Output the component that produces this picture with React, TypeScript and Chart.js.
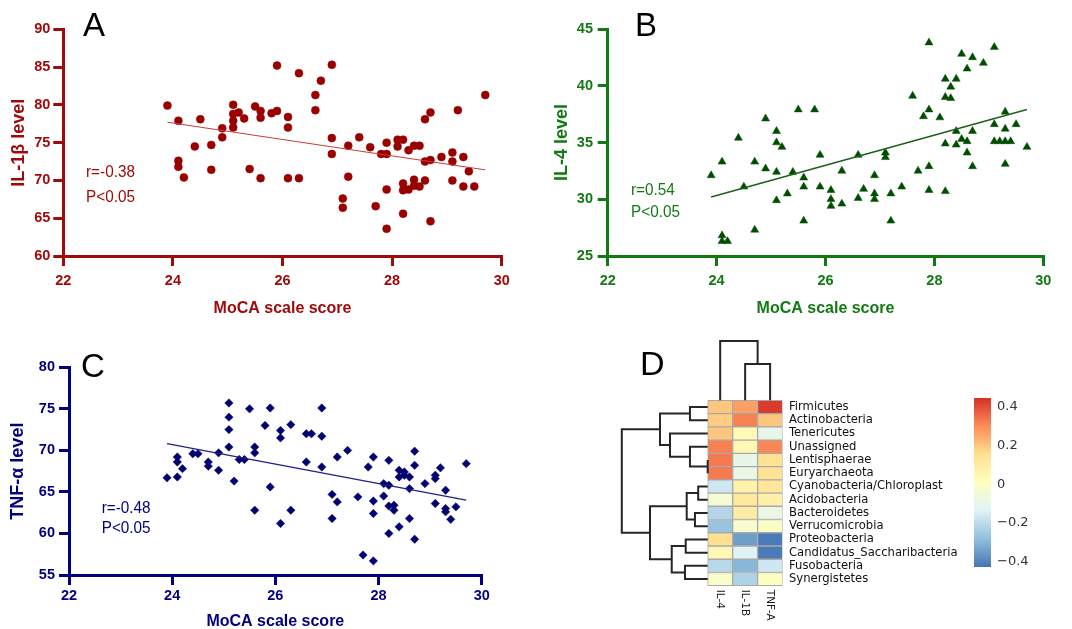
import React, { useEffect, useRef } from 'react';
import { Chart, registerables } from 'chart.js';

Chart.register(...registerables);

const NARROW = "'Liberation Sans Narrow', 'Arial Narrow', 'Liberation Sans', Arial, sans-serif";
const SANS = "'Liberation Sans', Arial, sans-serif";
const HEAT_FONT = "'DejaVu Sans', sans-serif";

// ---------------- Panel A : IL-1β ----------------
const moCaTicks = [22, 24, 26, 28, 30];
const mocaA = [23.9, 24.1, 24.1, 24.1, 24.2, 24.4, 24.5, 24.7, 24.7, 24.9, 24.9, 25.1, 25.1, 25.1, 25.1, 25.2, 25.3, 25.4, 25.5, 25.6, 25.6, 25.6, 25.8, 25.9, 25.9, 26.1, 26.1, 26.1, 26.3, 26.3, 26.6, 26.6, 26.7, 26.9, 26.9, 26.9, 27.1, 27.1, 27.2, 27.2, 27.4, 27.6, 27.7, 27.8, 27.9, 27.9, 27.9, 27.9, 28.1, 28.1, 28.2, 28.2, 28.2, 28.2, 28.3, 28.3, 28.4, 28.4, 28.4, 28.5, 28.5, 28.6, 28.6, 28.6, 28.7, 28.7, 28.7, 28.9, 29.1, 29.1, 29.1, 29.2, 29.3, 29.3, 29.4, 29.5, 29.7];
const il1bLevel = [79.9, 77.9, 72.6, 71.8, 70.4, 74.5, 78.1, 74.7, 71.4, 76.9, 75.7, 80.0, 78.8, 77.9, 77.0, 79.0, 78.2, 71.5, 79.8, 79.2, 78.3, 70.3, 78.9, 79.2, 85.2, 78.4, 77.0, 70.3, 84.2, 70.3, 81.3, 79.3, 83.2, 85.3, 75.6, 73.5, 67.6, 66.4, 74.6, 70.5, 75.7, 74.4, 66.6, 73.5, 75.0, 73.5, 68.8, 63.6, 75.4, 74.5, 75.4, 69.6, 68.7, 65.6, 74.0, 68.8, 74.6, 70.1, 69.3, 74.6, 69.2, 78.1, 72.5, 70.0, 79.0, 72.7, 64.6, 73.1, 73.7, 72.5, 70.0, 79.3, 73.1, 69.2, 71.2, 69.2, 81.3];
const trendAX = [23.9, 29.7];
const trendAY = [77.7, 71.4];
const il1bTicks = [60, 65, 70, 75, 80, 85, 90];

// ---------------- Panel B : IL-4 ----------------
const mocaB = [23.9, 24.1, 24.1, 24.1, 24.2, 24.4, 24.5, 24.7, 24.7, 24.9, 24.9, 25.1, 25.1, 25.1, 25.1, 25.2, 25.3, 25.4, 25.5, 25.6, 25.6, 25.6, 25.8, 25.9, 25.9, 26.1, 26.1, 26.1, 26.3, 26.3, 26.6, 26.6, 26.7, 26.9, 26.9, 26.9, 27.1, 27.1, 27.2, 27.2, 27.4, 27.6, 27.7, 27.8, 27.9, 27.9, 27.9, 27.9, 28.1, 28.2, 28.2, 28.2, 28.2, 28.3, 28.3, 28.4, 28.4, 28.4, 28.5, 28.5, 28.6, 28.6, 28.6, 28.7, 28.7, 28.7, 28.9, 29.1, 29.1, 29.1, 29.2, 29.3, 29.3, 29.3, 29.3, 29.4, 29.5, 29.7];
const il4Level = [32.1, 33.3, 26.8, 26.3, 26.3, 35.4, 31.1, 33.3, 27.3, 37.1, 32.7, 36.0, 35.0, 32.4, 29.9, 34.6, 30.5, 32.4, 37.9, 31.9, 31.1, 28.1, 37.9, 33.9, 31.1, 30.8, 30.0, 29.4, 32.5, 29.6, 33.9, 30.1, 30.9, 32.1, 30.5, 30.0, 34.1, 33.7, 30.5, 28.1, 31.1, 39.1, 32.5, 37.3, 43.8, 37.9, 32.9, 30.8, 37.2, 40.6, 39.0, 34.9, 30.7, 39.9, 38.9, 40.6, 36.0, 34.8, 42.8, 35.3, 41.5, 35.1, 34.1, 42.5, 36.0, 32.9, 42.0, 43.4, 36.6, 35.1, 35.1, 37.7, 36.2, 35.1, 33.1, 35.1, 36.6, 34.6];
const trendBX = [23.9, 29.7];
const trendBY = [30.2, 37.9];
const il4Ticks = [25, 30, 35, 40, 45];

// ---------------- Panel C : TNF-α ----------------
const mocaC = [23.9, 24.1, 24.1, 24.1, 24.2, 24.4, 24.5, 24.7, 24.7, 24.9, 24.9, 25.1, 25.1, 25.1, 25.1, 25.2, 25.3, 25.4, 25.5, 25.6, 25.6, 25.6, 25.8, 25.9, 25.9, 26.1, 26.1, 26.1, 26.3, 26.3, 26.6, 26.7, 26.6, 26.9, 26.9, 26.9, 27.1, 27.1, 27.2, 27.2, 27.4, 27.6, 27.7, 27.8, 27.9, 27.9, 27.9, 27.9, 28.1, 28.1, 28.2, 28.2, 28.2, 28.2, 28.3, 28.3, 28.4, 28.4, 28.5, 28.5, 28.4, 28.6, 28.6, 28.6, 28.7, 28.7, 28.7, 28.9, 29.1, 29.1, 29.1, 29.2, 29.3, 29.3, 29.3, 29.4, 29.5, 29.7];
const tnfLevel = [66.7, 69.2, 68.6, 66.8, 67.8, 69.6, 69.6, 68.6, 68.1, 69.7, 67.6, 75.7, 74.0, 72.5, 70.4, 66.3, 68.9, 68.9, 75.0, 70.4, 69.7, 62.8, 73.0, 75.1, 65.6, 72.4, 71.5, 61.2, 73.1, 62.8, 72.0, 72.0, 68.6, 75.1, 71.7, 68.0, 64.7, 61.8, 69.2, 63.8, 70.0, 64.4, 57.4, 68.0, 69.2, 63.9, 62.4, 56.7, 66.0, 64.5, 68.8, 65.8, 63.3, 60.0, 63.4, 62.8, 67.6, 66.8, 67.4, 67.0, 60.8, 61.8, 65.4, 66.8, 68.2, 69.9, 59.3, 66.0, 67.0, 66.6, 63.6, 67.9, 65.2, 63.0, 62.6, 61.7, 63.2, 68.4];
const trendCX = [23.9, 29.7];
const trendCY = [70.8, 64.0];
const tnfTicks = [55, 60, 65, 70, 75, 80];

// ---------------- Panel D : correlation heatmap ----------------
const rowNames = ['Firmicutes', 'Actinobacteria', 'Tenericutes', 'Unassigned', 'Lentisphaerae', 'Euryarchaeota', 'Cyanobacteria/Chloroplast', 'Acidobacteria', 'Bacteroidetes', 'Verrucomicrobia', 'Proteobacteria', 'Candidatus_Saccharibacteria', 'Fusobacteria', 'Synergistetes'];
const colNames = ['IL-4', 'IL-1B', 'TNF-A'];
const il4Corr = [0.2, 0.19, 0.2, 0.32, 0.33, 0.33, -0.17, -0.04, -0.22, -0.27, 0.15, 0.04, -0.21, -0.02];
const il1bCorr = [0.27, 0.32, 0.03, 0.04, -0.1, -0.09, 0.07, 0.11, 0.1, -0.03, -0.35, -0.14, -0.3, -0.23];
const tnfCorr = [0.43, 0.2, -0.1, 0.31, 0.14, 0.14, 0.12, 0.08, -0.09, -0.01, -0.42, -0.42, -0.17, 0.0];
// row dendrogram merges (leaves 0..13, merge k creates node 14+k), heights in column widths
const rowMergeA = [4, 3, 0, 2, 16, 6, 8, 19, 10, 12, 22, 21, 18];
const rowMergeB = [5, 14, 1, 15, 17, 7, 9, 20, 11, 13, 23, 24, 25];
const rowMergeH = [0, 0.71, 0.71, 1.51, 1.91, 0.38, 0.51, 0.84, 0.88, 0.91, 1.44, 2.31, 3.44];
// column dendrogram merges (leaves 0..2, merge k creates node 3+k), heights in row heights
const colMergeA = [1, 0];
const colMergeB = [2, 3];
const colMergeH = [2.75, 4.49];
const colorbarTicks = [0.4, 0.2, 0, -0.2, -0.4];
const corrMin = -0.43;
const corrMax = 0.447;
const palette = ['#4575b4', '#91bfdb', '#e0f3f8', '#ffffbf', '#fee090', '#fc8d59', '#d73027'];

function hexToRgb(h: string) {
  const n = parseInt(h.slice(1), 16);
  return [(n >> 16) & 255, (n >> 8) & 255, n & 255];
}
function corrColor(v: number) {
  const t = Math.min(1, Math.max(0, (v - corrMin) / (corrMax - corrMin)));
  const s = t * (palette.length - 1);
  const i = Math.min(palette.length - 2, Math.floor(s));
  const f = s - i;
  const a = hexToRgb(palette[i]);
  const b = hexToRgb(palette[i + 1]);
  const c = a.map((x, k) => Math.round(x + (b[k] - x) * f));
  return `rgb(${c[0]},${c[1]},${c[2]})`;
}

const textPlugin = {
  id: 'panelText',
  afterDraw(chart: any, _args: any, opts: any) {
    const ctx = chart.ctx;
    (opts.items || []).forEach((it: any) => {
      ctx.save();
      ctx.font = it.font;
      ctx.fillStyle = it.color;
      ctx.textBaseline = 'alphabetic';
      ctx.textAlign = 'left';
      ctx.translate(it.x, it.y);
      if (it.sx) ctx.scale(it.sx, 1);
      ctx.fillText(it.text, 0, 0);
      ctx.restore();
    });
  },
};

const colLabelPlugin = {
  id: 'colLabels',
  afterDraw(chart: any) {
    const { ctx, scales } = chart;
    ctx.save();
    ctx.font = `10.5px ${HEAT_FONT}`;
    ctx.fillStyle = '#1a1a1a';
    ctx.textAlign = 'left';
    ctx.textBaseline = 'middle';
    colNames.forEach((name, j) => {
      ctx.save();
      ctx.translate(scales.x.getPixelForValue(j + 0.5), scales.y.getPixelForValue(0) + 4);
      ctx.rotate(Math.PI / 2);
      ctx.fillText(name, 0, 0);
      ctx.restore();
    });
    ctx.restore();
  },
};

function fixWidth(w: number) {
  return (s: any) => {
    s.width = w;
    s.paddingTop = 0;
    s.paddingBottom = 0;
  };
}

function scatterConfig(p: any) {
  return {
    type: 'scatter',
    data: {
      datasets: [
        {
          data: p.tx.map((x: number, i: number) => ({ x, y: p.ty[i] })),
          showLine: true,
          borderColor: p.lineColor,
          borderWidth: p.lineWidth,
          pointRadius: 0,
        },
        {
          data: p.xs.map((x: number, i: number) => ({ x, y: p.ys[i] })),
          pointStyle: p.pointStyle,
          pointRadius: p.radius,
          backgroundColor: p.pointColor,
          borderColor: p.pointColor,
          borderWidth: 0.5,
        },
      ],
    },
    plugins: [textPlugin],
    options: {
      animation: false,
      responsive: false,
      events: [],
      layout: { padding: { left: 0, top: p.padTop, right: p.padRight, bottom: 0 } },
      plugins: { legend: { display: false }, tooltip: { enabled: false }, panelText: { items: p.texts } },
      scales: {
        x: {
          type: 'linear', min: 22, max: 30,
          afterBuildTicks: (s: any) => { s.ticks = moCaTicks.map((v) => ({ value: v })); },
          afterFit: (s: any) => { s.height = p.xHeight; },
          ticks: { color: p.color, padding: p.xTickPad, font: { family: NARROW, size: 14.5, weight: 'bold' } },
          grid: { drawOnChartArea: false, drawTicks: true, tickLength: 10, lineWidth: 3, color: p.color },
          border: { display: true, width: 3, color: p.color },
          title: { display: true, text: 'MoCA scale score', color: p.color, font: { family: NARROW, size: 16, weight: 'bold' }, padding: { top: 0, bottom: p.xTitlePad } },
        },
        y: {
          type: 'linear', min: p.yTicks[0], max: p.yTicks[p.yTicks.length - 1],
          afterBuildTicks: (s: any) => { s.ticks = p.yTicks.map((v: number) => ({ value: v })); },
          afterFit: fixWidth(p.yWidth),
          ticks: { color: p.color, padding: p.yTickPad, font: { family: NARROW, size: 14.5, weight: 'bold' } },
          grid: { drawOnChartArea: false, drawTicks: true, tickLength: 10, lineWidth: 3, color: p.color },
          border: { display: true, width: 3, color: p.color },
          title: { display: true, text: p.yTitle, color: p.color, font: { family: NARROW, size: 18, weight: 'bold' }, padding: { top: p.yTitlePad, bottom: 0 } },
        },
      },
    },
  };
}

function makeA() {
  const red = '#a00a0a';
  return scatterConfig({
    xs: mocaA, ys: il1bLevel, tx: trendAX, ty: trendAY, yTicks: il1bTicks, yTitle: 'IL-1β level',
    color: red, pointColor: '#990000', lineColor: '#cc3a3a', lineWidth: 1, pointStyle: 'circle', radius: 4,
    padTop: 29.3, padRight: 28.3, yWidth: 63.3, xHeight: 64, xTickPad: 6, yTickPad: 3, xTitlePad: 1.5, yTitlePad: 8.2,
    texts: [
      { text: 'A', x: 83, y: 36, font: `33px ${SANS}`, color: '#000' },
      { text: 'r=-0.38', x: 86, y: 176.7, font: `17px ${SANS}`, color: red, sx: 0.9 },
      { text: 'P<0.05', x: 86, y: 201.5, font: `17px ${SANS}`, color: red, sx: 0.9 },
    ],
  });
}
function makeB() {
  const green = '#137a13';
  return scatterConfig({
    xs: mocaB, ys: il4Level, tx: trendBX, ty: trendBY, yTicks: il4Ticks, yTitle: 'IL-4 level',
    color: green, pointColor: '#004d00', lineColor: '#1c601c', lineWidth: 1.5, pointStyle: 'triangle', radius: 4.6,
    padTop: 29, padRight: 28.7, yWidth: 77.7, xHeight: 64, xTickPad: 6, yTickPad: 4.7, xTitlePad: 2.2, yTitlePad: 20.9,
    texts: [
      { text: 'B', x: 105, y: 36, font: `33px ${SANS}`, color: '#000' },
      { text: 'r=0.54', x: 101, y: 195, font: `17px ${SANS}`, color: green, sx: 0.9 },
      { text: 'P<0.05', x: 101, y: 217.3, font: `17px ${SANS}`, color: green, sx: 0.9 },
    ],
  });
}
function makeC() {
  const navy = '#000080';
  return scatterConfig({
    xs: mocaC, ys: tnfLevel, tx: trendCX, ty: trendCY, yTicks: tnfTicks, yTitle: 'TNF-α level',
    color: navy, pointColor: '#000070', lineColor: '#20208a', lineWidth: 1.3, pointStyle: 'rectRot', radius: 4.2,
    padTop: 37.3, padRight: 48.3, yWidth: 69, xHeight: 60, xTickPad: 2.7, yTickPad: 4, xTitlePad: 3.5, yTitlePad: 7.2,
    texts: [
      { text: 'C', x: 81, y: 46.7, font: `33px ${SANS}`, color: '#000' },
      { text: 'r=-0.48', x: 101.7, y: 182.7, font: `17px ${SANS}`, color: navy, sx: 0.9 },
      { text: 'P<0.05', x: 101.7, y: 203.3, font: `17px ${SANS}`, color: navy, sx: 0.9 },
    ],
  });
}

function dendroDatasets() {
  const n = rowNames.length;
  const segs: any[] = [];
  const ypos = rowNames.map((_, i) => n - 0.5 - i);
  const rh = rowNames.map(() => 0);
  rowMergeA.forEach((a, k) => {
    const b = rowMergeB[k];
    const h = rowMergeH[k];
    segs.push([
      { x: -rh[a], y: ypos[a] }, { x: -h, y: ypos[a] }, { x: -h, y: ypos[b] }, { x: -rh[b], y: ypos[b] },
    ]);
    ypos.push((ypos[a] + ypos[b]) / 2);
    rh.push(h);
  });
  const xpos = colNames.map((_, j) => j + 0.5);
  const ch = colNames.map(() => 0);
  colMergeA.forEach((a, k) => {
    const b = colMergeB[k];
    const h = colMergeH[k];
    segs.push([
      { x: xpos[a], y: n + ch[a] }, { x: xpos[a], y: n + h }, { x: xpos[b], y: n + h }, { x: xpos[b], y: n + ch[b] },
    ]);
    xpos.push((xpos[a] + xpos[b]) / 2);
    ch.push(h);
  });
  return segs.map((d) => ({
    type: 'scatter', data: d, showLine: true, borderColor: '#262626', borderWidth: 2,
    pointRadius: 0, clip: false, borderJoinStyle: 'miter',
  }));
}

function makeD() {
  const n = rowNames.length;
  const heat = [il4Corr, il1bCorr, tnfCorr].map((vals, j) => ({
    type: 'bar', indexAxis: 'y', grouped: false,
    data: vals.map((_v, i) => ({ x: [j, j + 1], y: n - 0.5 - i })),
    backgroundColor: vals.map(corrColor),
    borderColor: '#a9a9a9', borderWidth: 1, borderSkipped: false,
    barPercentage: 1, categoryPercentage: 1,
  }));
  return {
    type: 'scatter',
    data: { datasets: [...dendroDatasets(), ...heat] },
    plugins: [textPlugin, colLabelPlugin],
    options: {
      animation: false, responsive: false, events: [],
      layout: { autoPadding: false, padding: { left: 30.3, top: 0, right: 0, bottom: 33.8 } },
      plugins: {
        legend: { display: false }, tooltip: { enabled: false },
        panelText: { items: [{ text: 'D', x: 50, y: 45, font: `34px ${SANS}`, color: '#000' }] },
      },
      scales: {
        x: { type: 'linear', min: -3.5, max: 3, display: false },
        y: {
          type: 'linear', position: 'right', min: 0, max: 18.6,
          afterBuildTicks: (s: any) => { s.ticks = rowNames.map((_, i) => ({ value: n - 0.5 - i })); },
          afterFit: fixWidth(177.4),
          ticks: { autoSkip: false, padding: 6.4, color: '#111', font: { family: HEAT_FONT, size: 11.6 }, callback: (_v: any, i: number) => rowNames[i] },
          grid: { display: false, drawTicks: false },
          border: { display: false },
        },
      },
    },
  };
}

function makeColorbar() {
  return {
    type: 'bar',
    data: {
      labels: [''],
      datasets: [{
        data: [[corrMin, corrMax]],
        backgroundColor: (c: any) => {
          const area = c.chart.chartArea;
          if (!area) return '#ffffbf';
          const g = c.chart.ctx.createLinearGradient(0, area.bottom, 0, area.top);
          palette.forEach((col, i) => g.addColorStop(i / (palette.length - 1), col));
          return g;
        },
        borderWidth: 0, barPercentage: 1, categoryPercentage: 1,
      }],
    },
    options: {
      animation: false, responsive: false, events: [],
      layout: { padding: { left: 14, top: 8, right: 0, bottom: 13 } },
      plugins: { legend: { display: false }, tooltip: { enabled: false } },
      scales: {
        x: { display: false },
        y: {
          position: 'right', min: corrMin, max: corrMax,
          afterBuildTicks: (s: any) => { s.ticks = colorbarTicks.map((v) => ({ value: v })); },
          afterFit: fixWidth(81),
          ticks: {
            autoSkip: false, padding: 6, color: '#333', font: { family: HEAT_FONT, size: 13 },
            callback: (v: number) => (v === 0 ? '0' : v < 0 ? '\u2212' + Math.abs(v) : String(v)),
          },
          grid: { display: false, drawTicks: false },
          border: { display: false },
        },
      },
    },
  };
}

function ChartCanvas({ make, left, top, width, height }: any) {
  const ref = useRef<HTMLCanvasElement>(null);
  useEffect(() => {
    const chart = new Chart(ref.current as HTMLCanvasElement, make());
    return () => chart.destroy();
  }, []);
  return (
    <canvas
      ref={ref}
      width={width}
      height={height}
      style={{ position: 'absolute', left, top, width, height }}
    />
  );
}

export default function App() {
  return (
    <div style={{ position: 'fixed', left: 0, top: 0, width: 1072, height: 629, overflow: 'hidden', background: '#fff' }}>
      <ChartCanvas make={makeA} left={0} top={0} width={530} height={320} />
      <ChartCanvas make={makeB} left={530} top={0} width={542} height={320} />
      <ChartCanvas make={makeC} left={0} top={330} width={530} height={305} />
      <ChartCanvas make={makeD} left={590} top={330} width={370} height={299} />
      <ChartCanvas make={makeColorbar} left={960} top={390} width={112} height={190} />
    </div>
  );
}
